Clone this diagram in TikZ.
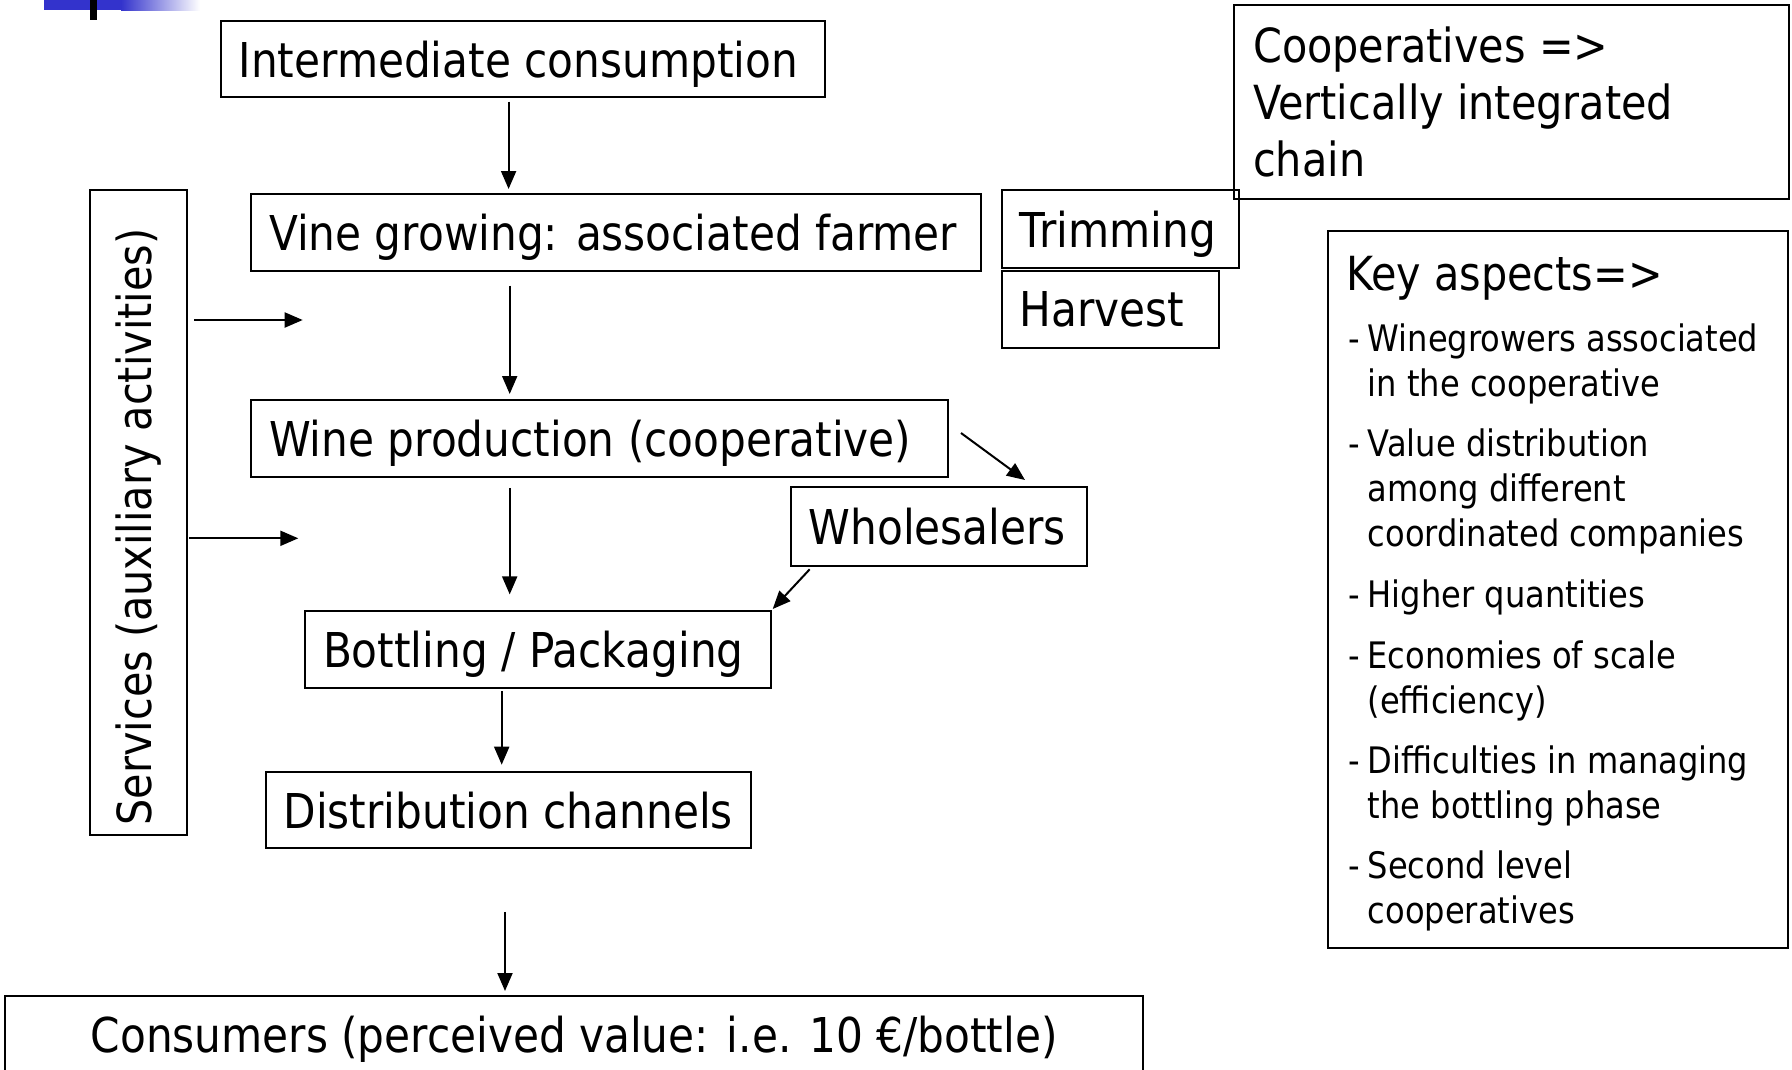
\documentclass[tikz,border=0pt]{standalone}
\usepackage{fontspec}
\newfontfamily\tah[FakeStretch=0.88]{DejaVu Sans}
\usetikzlibrary{arrows.meta}
\definecolor{barblue}{RGB}{51,51,204}
% box of fixed width whose text starts at a fixed left inset
\newcommand\lefttext[2]{\makebox[#1][l]{\hspace*{18pt}#2}}

\begin{document}
\begin{tikzpicture}[x=1pt,y=-1pt,
  box/.style={draw, line width=2pt, inner sep=0pt, minimum height=77pt, text depth=0pt,
              font=\tah\fontsize{48}{57}\selectfont},
  frame/.style={draw, line width=2pt, inner sep=0pt},
  arr/.style={line width=2pt, -{Triangle[length=18pt,width=15pt]}},
  keyhead/.style={anchor=base west, inner sep=0pt, font=\tah\fontsize{47}{55}\selectfont},
  keyitem/.style={anchor=base west, inner sep=0pt, font=\tah\fontsize{36.5}{45}\selectfont},
  cooptxt/.style={anchor=base west, inner sep=0pt, font=\tah\fontsize{47}{57}\selectfont}
]
\useasboundingbox (0,0) rectangle (1792,1069);

% title bar ornament
\fill[barblue] (44,-2) rectangle (121,10);
\shade[left color=barblue, right color=white] (121,-2) rectangle (200,10);
\fill[black] (90,-2) rectangle (97,20);

% main chain
\node[box, minimum height=76.5pt] (int) at (522.8,58.85) {\lefttext{604.4pt}{Intermediate consumption}};
\node[box, minimum height=77.3pt] (vine) at (615.8,232.15) {\lefttext{729.6pt}{Vine growing: associated farmer}};
\node[box, minimum height=77pt] (wine) at (599.5,438.5) {\lefttext{697pt}{Wine production (cooperative)}};
\node[box, minimum height=77.3pt] (bott) at (538,649.35) {\lefttext{466pt}{Bottling / Packaging}};
\node[box, minimum height=76.3pt] (dist) at (508.35,809.85) {\lefttext{485.3pt}{Distribution channels}};
\node[box, minimum width=1138.3pt, minimum height=77pt] (cons) at (574.15,1034) {Consumers (perceived value: i.e. 10 €/bottle)};

% side boxes
\node[box, minimum height=78.3pt] (trim) at (1120.5,229.15) {\lefttext{237.6pt}{Trimming}};
\node[box, minimum height=77.3pt] (harv) at (1110.35,309.35) {\lefttext{217.3pt}{Harvest}};
\node[box, minimum height=78.4pt] (whole) at (938.7,526.5) {\lefttext{296pt}{Wholesalers}};
\node[draw, line width=2pt, inner sep=0pt, minimum width=97.3pt, minimum height=645pt,
      font=\tah\fontsize{47}{56}\selectfont]
  (svc) at (138.65,512.5) {\rotatebox{90}{Services (auxiliary activities)\hspace*{29pt}}};

% cooperatives note
\node[frame, minimum width=555pt, minimum height=194pt] (coop) at (1511.5,101.5) {};
\node[cooptxt] (cooptext) at (1253,62) {\parbox[t]{520pt}{Cooperatives =>\\Vertically integrated\\chain}};

% key aspects box
\node[frame, minimum width=460pt, minimum height=717pt] (key) at (1558,589.5) {};
\node[keyhead] (khead) at (1346,290) {Key aspects=>};
\node[keyitem] (k1) at (1348.5,351.7) {\makebox[19pt][l]{-}\parbox[t]{410pt}{Winegrowers associated\\in the cooperative}};
\node[keyitem] (k2) at (1348.5,456.7) {\makebox[19pt][l]{-}\parbox[t]{410pt}{Value distribution\\among different\\coordinated companies}};
\node[keyitem] (k3) at (1348.5,607) {\makebox[19pt][l]{-}\parbox[t]{410pt}{Higher quantities}};
\node[keyitem] (k4) at (1348.5,668) {\makebox[19pt][l]{-}\parbox[t]{410pt}{Economies of scale\\(efficiency)}};
\node[keyitem] (k5) at (1348.5,773) {\makebox[19pt][l]{-}\parbox[t]{410pt}{Difficulties in managing\\the bottling phase}};
\node[keyitem] (k6) at (1348.5,878) {\makebox[19pt][l]{-}\parbox[t]{410pt}{Second level\\cooperatives}};

% arrow columns and free ends
\coordinate (c1) at (508.6,0);
\coordinate (c2) at (509.7,0);
\coordinate (c3) at (501.7,0);
\coordinate (c4) at (505,0);
\coordinate (s1) at (302.7,320);
\coordinate (s2) at (298.3,538.3);

% vertical flow
\draw[arr, shorten <=3.5pt, shorten >=3.5pt] (int.south -| c1) -- (vine.north -| c1);
\draw[arr, shorten <=13.8pt, shorten >=5pt] (vine.south -| c2) -- (wine.north -| c2);
\draw[arr, shorten <=9.9pt, shorten >=15.3pt] (wine.south -| c2) -- (bott.north -| c2);
\draw[arr, shorten <=2pt, shorten >=6pt] (bott.south -| c3) -- (dist.north -| c3);
\draw[arr, shorten <=62.9pt, shorten >=3.5pt] (dist.south -| c4) -- (cons.north -| c4);

% services feed the chain
\draw[arr, shorten <=6pt] (svc.east |- s1) -- (s1);
\draw[arr, shorten <=1pt] (svc.east |- s2) -- (s2);

% detour through wholesalers
\draw[arr] ([xshift=12pt,yshift=5.5pt]wine.east) -- ([xshift=86.3pt,yshift=6.3pt]whole.north);
\draw[arr] ([xshift=20pt,yshift=-2.6pt]whole.south west) -- ([xshift=0.7pt,yshift=0.7pt]bott.north east);
\end{tikzpicture}
\end{document}
